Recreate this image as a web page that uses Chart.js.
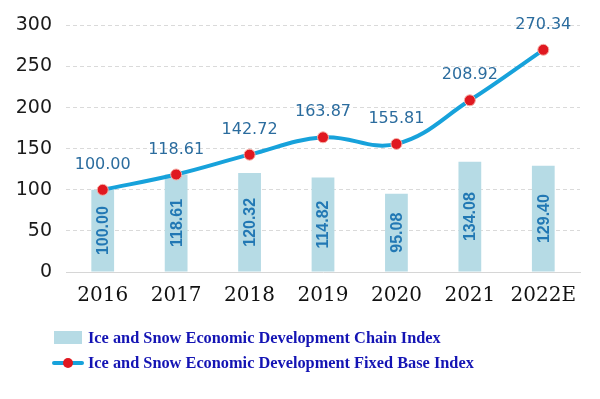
<!DOCTYPE html>
<html>
<head>
<meta charset="utf-8">
<script src="https://cdn.jsdelivr.net/npm/chart.js@4/dist/chart.umd.min.js"></script>
<style>
  body { margin: 0; background: #fff; }
  #wrap { position: relative; width: 600px; height: 399px; }
  #legend { position: absolute; left: 52px; top: 325px; font: bold 17px "Liberation Serif", serif; color: #1414b4; }
  .row { height: 25px; display: flex; align-items: center; white-space: nowrap; }
  .txt { display: inline-block; transform: scaleX(0.96); transform-origin: left center; }
  .sw-bar { width: 28px; height: 13px; background: #b6dbe5; margin: 0 6px 0 2px; }
  .sw-line { position: relative; width: 32px; height: 13px; margin-right: 4px; }
  .sw-line:before { content: ""; position: absolute; left: 0; right: 0; top: 5px; height: 4px; background: #17a2db; border-radius: 2px; }
  .sw-line:after { content: ""; position: absolute; left: 11px; top: 2px; width: 10px; height: 10px; border-radius: 50%; background: #e01820; }
</style>
</head>
<body>
<div id="wrap">
  <canvas id="chart" width="600" height="399"></canvas>
  <div id="legend">
    <div class="row"><span class="sw-bar"></span><span class="txt">Ice and Snow Economic Development Chain Index</span></div>
    <div class="row"><span class="sw-line"></span><span class="txt">Ice and Snow Economic Development Fixed Base Index</span></div>
  </div>
</div>
<script>
// Chart data
const years = ['2016', '2017', '2018', '2019', '2020', '2021', '2022E'];
const chainIndex = [100.00, 118.61, 120.32, 114.82, 95.08, 134.08, 129.40];
const fixedBaseIndex = [100.00, 118.61, 142.72, 163.87, 155.81, 208.92, 270.34];
const yTicks = [0, 50, 100, 150, 200, 250, 300];

// Draws the value labels: above the line points, rotated inside the bars
const valueLabels = {
  id: 'valueLabels',
  afterDatasetsDraw(chart) {
    const ctx = chart.ctx;
    ctx.save();
    ctx.textAlign = 'center';
    ctx.textBaseline = 'middle';

    // bar labels
    const bars = chart.getDatasetMeta(0);
    ctx.fillStyle = '#2278b4';
    ctx.font = 'bold 16px "Liberation Sans", Arial, sans-serif';
    bars.data.forEach((bar, i) => {
      const cy = (bar.y + bar.base) / 2;
      ctx.save();
      ctx.translate(bar.x, cy);
      ctx.rotate(-Math.PI / 2);
      ctx.fillText(chainIndex[i].toFixed(2), 0, 1);
      ctx.restore();
    });

    // line labels
    const pts = chart.getDatasetMeta(1);
    ctx.fillStyle = '#2b6c9e';
    ctx.font = '16px "DejaVu Sans", sans-serif';
    pts.data.forEach((p, i) => {
      ctx.fillText(fixedBaseIndex[i].toFixed(2), p.x, p.y - 25);
    });
    ctx.restore();
  }
};

const ctx = document.getElementById('chart').getContext('2d');
new Chart(ctx, {
  data: {
    labels: years,
    datasets: [
      {
        type: 'bar',
        label: 'Ice and Snow Economic Development Chain Index',
        data: chainIndex,
        backgroundColor: '#b6dbe5',
        barPercentage: 0.62,
        categoryPercentage: 0.5,
        order: 2
      },
      {
        type: 'line',
        label: 'Ice and Snow Economic Development Fixed Base Index',
        data: fixedBaseIndex,
        borderColor: '#17a2db',
        borderWidth: 4,
        tension: 0.4,
        pointRadius: 5.5,
        pointBackgroundColor: '#e01820',
        pointBorderColor: '#f4b0a8',
        pointBorderWidth: 1,
        order: 1
      }
    ]
  },
  options: {
    responsive: false,
    animation: false,
    layout: { padding: { top: 12, right: 20, bottom: 79, left: 0 } },
    plugins: {
      legend: { display: false },
      tooltip: { enabled: false }
    },
    scales: {
      x: {
        grid: { display: false, drawTicks: false },
        border: { display: true, color: '#d6d6d6', width: 1 },
        ticks: {
          color: '#111',
          padding: 12,
          font: { family: '"DejaVu Serif", serif', size: 20 }
        }
      },
      y: {
        min: 0,
        max: 300,
        afterFit(scale) { scale.width = 66; },
        afterBuildTicks(scale) { scale.ticks = yTicks.map(v => ({ value: v })); },
        border: { display: false, dash: [4, 3] },
        grid: { color: '#dadada', drawTicks: false, lineWidth: 1 },
        ticks: {
          color: '#1a1a1a',
          padding: 14,
          font: { family: '"DejaVu Sans", sans-serif', size: 19 }
        }
      }
    }
  },
  plugins: [valueLabels]
});
</script>
</body>
</html>
